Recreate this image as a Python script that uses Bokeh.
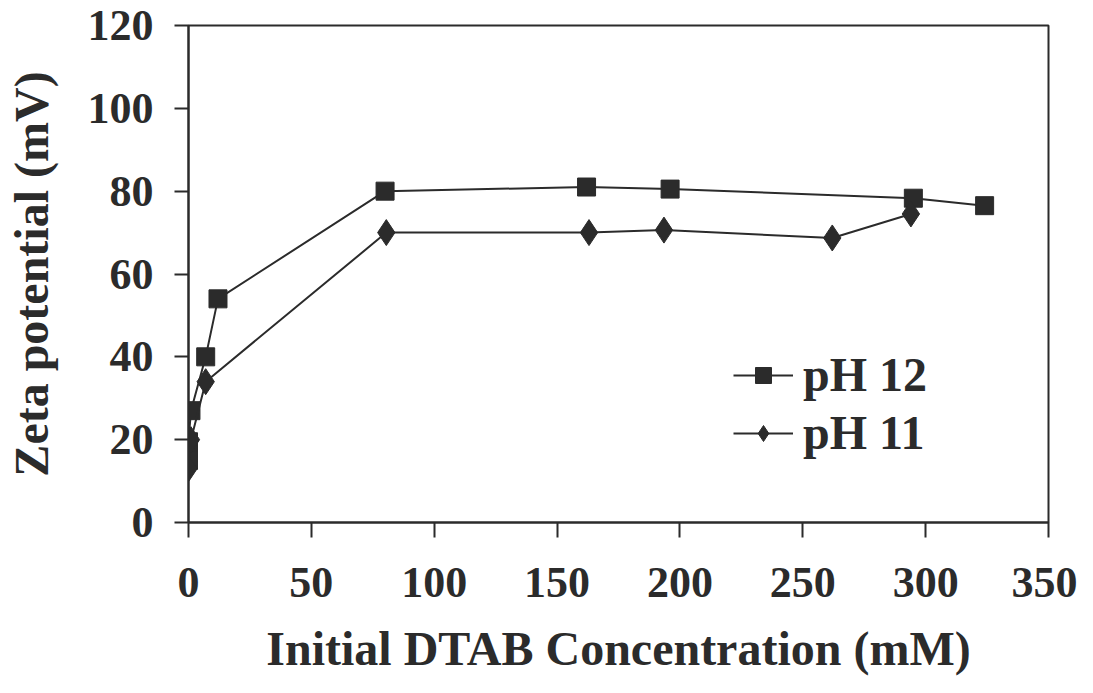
from bokeh.plotting import figure
from bokeh.models import Range1d, Legend, LegendItem, FixedTicker
from bokeh.embed import file_html
from bokeh.resources import INLINE

x_ph12 = [0, 0, 0, 1, 7, 12, 80, 162, 196, 295, 324]
y_ph12 = [15, 17, 19.5, 27, 40, 54, 80, 81, 80.5, 78.3, 76.5]
x_ph11 = [0, 1, 7, 80.5, 163, 193.5, 262, 294]
y_ph11 = [13, 20, 34, 70, 70, 70.6, 68.7, 74.5]
x_ticks = [0, 50, 100, 150, 200, 250, 300, 350]
y_ticks = [0, 20, 40, 60, 80, 100, 120]

FONT = "Liberation Serif"
INK = "#2b2b2b"

p = figure(width=1077, height=677, output_backend="svg", toolbar_location=None,
           x_range=Range1d(0, 350), y_range=Range1d(0, 120),
           min_border_left=188, min_border_right=29, min_border_top=25, min_border_bottom=154)
p.xgrid.visible = False
p.ygrid.visible = False
p.outline_line_color = INK
p.outline_line_width = 2

for ax in (p.xaxis[0], p.yaxis[0]):
    ax.axis_line_color = INK
    ax.axis_line_width = 2
    ax.major_tick_line_color = INK
    ax.major_tick_line_width = 2
    ax.minor_tick_line_color = None
    ax.major_tick_in = 0
    ax.major_tick_out = 14
    ax.major_label_text_font = FONT
    ax.major_label_text_font_style = "bold"
    ax.major_label_text_font_size = "44px"
    ax.major_label_text_color = INK
    ax.axis_label_text_font = FONT
    ax.axis_label_text_font_style = "bold"
    ax.axis_label_text_font_size = "48px"
    ax.axis_label_text_color = INK

p.xaxis.ticker = FixedTicker(ticks=x_ticks)
p.yaxis.ticker = FixedTicker(ticks=y_ticks)
p.xaxis.major_tick_out = 15
p.xaxis.major_label_standoff = 30
p.yaxis.major_label_standoff = 21
p.xaxis.axis_label = "Initial DTAB Concentration (mM)"
p.yaxis.axis_label = "Zeta potential (mV)"
p.xaxis.axis_label_standoff = 22
p.yaxis.axis_label_standoff = 27

l12 = p.line(x_ph12, y_ph12, line_color=INK, line_width=2)
m12 = p.scatter(x_ph12, y_ph12, marker="square", size=18, fill_color=INK, line_color=INK)
l11 = p.line(x_ph11, y_ph11, line_color=INK, line_width=2)
m11 = p.scatter(x_ph11, y_ph11, marker="diamond", size=26, fill_color=INK, line_color=INK)

legend = Legend(items=[LegendItem(label="pH 12", renderers=[l12, m12]),
                       LegendItem(label="pH 11", renderers=[l11, m11])],
                location=(545, 62), border_line_color=None, background_fill_alpha=0,
                label_text_font=FONT, label_text_font_style="bold",
                label_text_font_size="48px", label_text_color=INK,
                glyph_width=60, glyph_height=40, spacing=3, label_standoff=10)
p.add_layout(legend, "center")

open("out.html", "w").write(file_html(p, INLINE))
